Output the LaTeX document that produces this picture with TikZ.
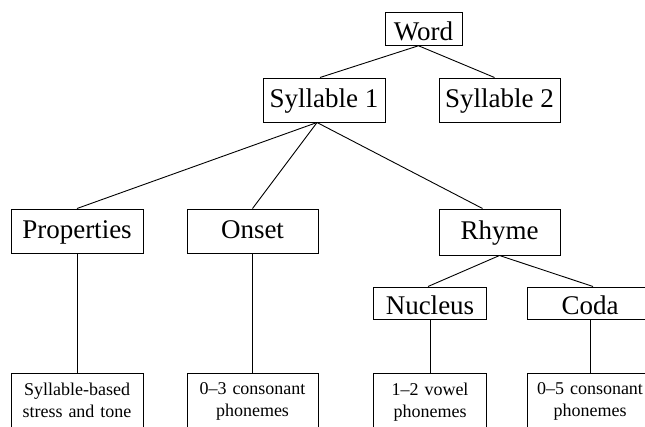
\documentclass[tikz,border=0pt]{standalone}
\usepackage{fontspec}
\setmainfont{Liberation Serif}
\usepackage{tikz}

\tikzset{
  unit/.style={draw, line width=1pt, inner sep=0pt,
    font=\fontsize{27}{29}\selectfont, text height=18pt, text depth=3pt},
  low/.style={text height=22pt, text depth=0pt},
  leaf/.style={draw, line width=1pt, inner xsep=0pt, inner ysep=9.5pt,
    anchor=north, align=center, text width=#1,
    font=\fontsize{18}{22}\selectfont},
  link/.style={line width=0.9pt}
}

\begin{document}
\begin{tikzpicture}[x=1pt,y=-1pt]
\useasboundingbox (0,0) rectangle (645,426);

% upper levels
\node[unit, low, minimum width=77, minimum height=32.5] (word) at (423.5,29) {Word};
\node[unit, minimum width=122, minimum height=44] (syl1) at (324,100) {Syllable 1};
\node[unit, minimum width=121, minimum height=44] (syl2) at (499.5,100) {Syllable 2};

\node[unit, minimum width=132, minimum height=44] (props) at (77,231) {Properties};
\node[unit, minimum width=131, minimum height=44] (onset) at (252.5,231) {Onset};
\node[unit, minimum width=121, minimum height=46] (rhyme) at (499.5,232) {Rhyme};

\node[unit, low, minimum width=113, minimum height=32] (nucleus) at (430,303) {Nucleus};
\node[unit, low, minimum width=126, minimum height=32] (coda) at (590,303) {Coda};

% bottom row
\node[leaf=132] (propsleaf) at (77,373) {Syllable-based\\stress and tone};
\node[leaf=131] (onsetleaf) at (252.5,373) {0--3 consonant\\phonemes};
\node[leaf=113] (nucleusleaf) at (430,373) {1--2 vowel\\phonemes};
\node[leaf=126] (codaleaf) at (590,373) {0--5 consonant\\phonemes};

\draw[link] ([xshift=-5]word.south) -- ([xshift=-4]syl1.north);
\draw[link] ([xshift=-5]word.south) -- ([xshift=-5]syl2.north);

\draw[link] ([xshift=-7]syl1.south) -- (props.north);
\draw[link] ([xshift=-7]syl1.south) -- (onset.north);
\draw[link] ([xshift=-7]syl1.south) -- ([xshift=-17]rhyme.north);

\draw[link] (rhyme.south) -- ([xshift=-2]nucleus.north);
\draw[link] (rhyme.south) -- ([xshift=3]coda.north);

\foreach \a/\b in {props/propsleaf, onset/onsetleaf, nucleus/nucleusleaf, coda/codaleaf}
  \draw[link] (\a.south) -- (\b.north);

\end{tikzpicture}
\end{document}
